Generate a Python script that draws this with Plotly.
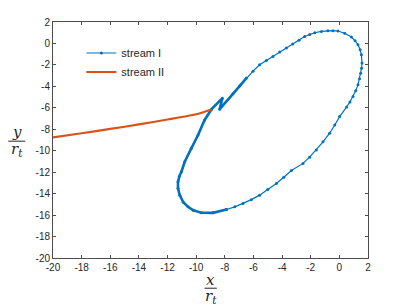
import plotly.graph_objects as go

# Stream I trajectory, starting at bottom going through the dense part
s1_x = [-7.89, -8.83, -9.64, -10.20, -10.57, -10.90, -11.15, -11.27, -11.27, -11.18, -11.03, -10.80,
        -10.34, -9.87, -9.41, -8.94, -8.17, -8.36, -7.43, -6.95, -6.49, -6.03, -5.57, -5.10, -4.64,
        -4.17, -3.70, -3.26, -2.82, -2.42, -2.07, -1.72, -1.25, -0.80, -0.45, -0.10, 0.37, 0.84,
        1.10, 1.30, 1.45, 1.54, 1.58, 1.55, 1.49, 1.41, 1.30, 1.14, 0.95, 0.74, 0.51, 0.02,
        -0.32, -0.68, -1.14, -1.61, -2.08, -2.54, -3.35, -3.88, -4.40, -5.00, -5.57, -6.15,
        -6.73, -7.30, -7.89]
s1_y = [-15.48, -15.79, -15.78, -15.55, -15.23, -14.80, -14.14, -13.50, -12.90, -12.40, -11.96, -11.03,
        -9.78, -8.53, -7.13, -6.15, -5.10, -6.13, -4.70, -3.95, -3.23, -2.58, -1.99, -1.58, -1.21,
        -0.80, -0.43, -0.06, 0.30, 0.65, 0.84, 1.00, 1.12, 1.19, 1.19, 1.16, 0.95, 0.60,
        0.25, -0.12, -0.58, -1.06, -1.83, -2.30, -2.77, -3.30, -3.86, -4.40, -4.95, -5.45, -5.92, -6.82,
        -7.60, -8.37, -9.17, -9.93, -10.60, -11.18, -11.85, -12.47, -13.05, -13.62, -14.14, -14.56,
        -14.92, -15.23, -15.48]
dense_count = 21  # first points are sampled densely (thick stroke)

# Stream II
s2_x = [-20, -18, -16, -14, -12, -10, -8.94]
s2_y = [-8.75, -8.37, -7.97, -7.55, -7.09, -6.60, -6.15]

x_ticks = list(range(-20, 3, 2))
y_ticks = list(range(-20, 3, 2))
x_tick_text = [str(v) for v in x_ticks]
y_tick_text = [str(v) for v in y_ticks]

blue = "#0072BD"
orange = "#D95319"

fig = go.Figure()
fig.add_trace(go.Scatter(x=s1_x[:dense_count], y=s1_y[:dense_count], mode="lines",
                         line=dict(color=blue, width=2.6),
                         showlegend=False, legendgroup="s1", hoverinfo="skip"))
fig.add_trace(go.Scatter(x=s1_x, y=s1_y, mode="lines+markers", name="stream I",
                         legendgroup="s1",
                         line=dict(color=blue, width=1.2),
                         marker=dict(color=blue, size=3)))
fig.add_trace(go.Scatter(x=s2_x, y=s2_y, mode="lines", name="stream II",
                         line=dict(color=orange, width=2.2, shape="spline", smoothing=0.6)))

axis_common = dict(showgrid=False, zeroline=False, ticks="inside", ticklen=3,
                   tickcolor="#4d4d4d", linecolor="#4d4d4d", linewidth=1,
                   showline=True, mirror="ticks",
                   tickfont=dict(family="Liberation Sans, Arial", size=10, color="#262626"))

fig.update_xaxes(range=[-20, 2], tickvals=x_ticks, ticktext=x_tick_text, **axis_common)
fig.update_yaxes(range=[-20, 2], tickvals=y_ticks, ticktext=y_tick_text, **axis_common)

serif = dict(family="DejaVu Serif, Liberation Serif", size=15, color="#262626")
anns = [
    dict(text="<i>x</i>", x=0.5, y=-0.095, xref="paper", yref="paper", showarrow=False, font=serif,
         xanchor="center", yanchor="middle"),
    dict(text="<i>r<sub>t</sub></i>", x=0.5, y=-0.165, xref="paper", yref="paper", showarrow=False,
         font=serif, xanchor="center", yanchor="middle"),
    dict(text="<i>y</i>", x=-0.115, y=0.535, xref="paper", yref="paper", showarrow=False, font=serif,
         xanchor="center", yanchor="middle"),
    dict(text="<i>r<sub>t</sub></i>", x=-0.115, y=0.46, xref="paper", yref="paper", showarrow=False,
         font=serif, xanchor="center", yanchor="middle"),
]
shapes = [
    dict(type="line", xref="paper", yref="paper", x0=0.481, x1=0.52, y0=-0.128, y1=-0.128,
         line=dict(color="#262626", width=1)),
    dict(type="line", xref="paper", yref="paper", x0=-0.142, x1=-0.088, y0=0.495, y1=0.495,
         line=dict(color="#262626", width=1)),
]

fig.update_layout(
    width=407, height=305,
    margin=dict(l=53, r=39, t=22, b=47),
    plot_bgcolor="white", paper_bgcolor="white",
    annotations=anns, shapes=shapes,
    legend=dict(x=0.09, y=0.93, xanchor="left", yanchor="top", bgcolor="rgba(0,0,0,0)",
                font=dict(family="Liberation Sans, Arial", size=11, color="#262626"),
                itemwidth=30, tracegroupgap=0),
)

fig.write_html("out.html", config={"displayModeBar": False},
               post_script="document.body.style.margin='0';document.body.style.overflow='hidden';")
